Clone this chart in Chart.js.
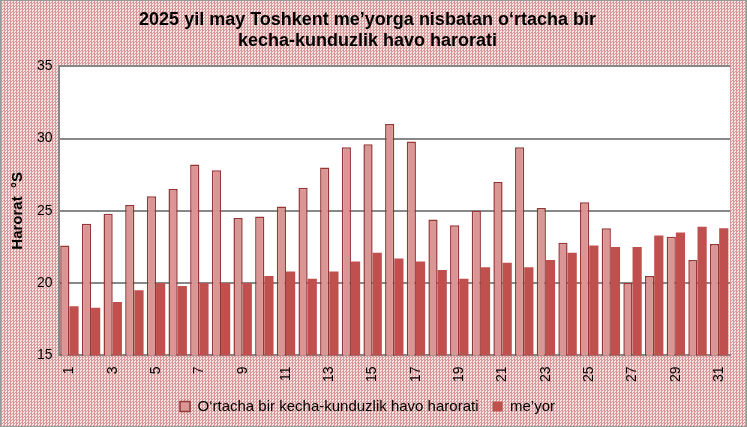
<!DOCTYPE html>
<html>
<head>
<meta charset="utf-8">
<script src="https://cdn.jsdelivr.net/npm/chart.js@4"></script>
<style>
  html, body { margin: 0; padding: 0; }
  body {
    width: 747px; height: 427px; overflow: hidden;
    background-color: #f3dcdc;
    background-image: repeating-conic-gradient(#d99696 0 25%, #f7e6e6 0 50%);
    background-size: 3px 3px;
  }
  #wrap { position: relative; width: 745px; height: 425px; border: 1px solid #999; }
</style>
</head>
<body>
<div id="wrap"><canvas id="chart" width="745" height="425"></canvas></div>
<script>
const days = Array.from({ length: 31 }, (_, i) => String(i + 1));
const averageTemp = [22.6, 24.1, 24.8, 25.4, 26.0, 26.5, 28.2, 27.8, 24.5, 24.6, 25.3, 26.6, 28.0, 29.4, 29.6, 31.0,
    29.8, 24.4, 24.0, 25.0, 27.0, 29.4, 25.2, 22.8, 25.6, 23.8, 20.0, 20.5, 23.2, 21.6, 22.7];
const normTemp = [18.4, 18.3, 18.7, 19.5, 20.0, 19.8, 20.0, 20.0, 20.0, 20.5, 20.8, 20.3, 20.8, 21.5, 22.1, 21.7,
    21.5, 20.9, 20.3, 21.1, 21.4, 21.1, 21.6, 22.1, 22.6, 22.5, 22.5, 23.3, 23.5, 23.9, 23.8];

const whiteArea = {
    id: "whiteArea",
    beforeDraw(chart) {
        const { ctx, chartArea: a } = chart;
        ctx.save();
        ctx.fillStyle = "#fff";
        ctx.fillRect(a.left, a.top, a.right - a.left, a.bottom - a.top);
        ctx.restore();
    }
};

new Chart(document.getElementById("chart"), {
    type: "bar",
    data: {
        labels: days,
        datasets: [{
            label: "O‘rtacha bir kecha-kunduzlik havo harorati",
            data: averageTemp,
            backgroundColor: "#d99694",
            borderColor: "#953735",
            borderWidth: 1.5,
        }, {
            label: "me’yor",
            data: normTemp,
            backgroundColor: "#c0504d",
            borderColor: "#c0504d",
            borderWidth: 0,
        }],
    },
    options: {
        responsive: false,
        animation: false,
        devicePixelRatio: 1,
        layout: { padding: { left: 4, right: 16, top: 0, bottom: 2 } },
        datasets: { bar: { categoryPercentage: 0.85, barPercentage: 1 } },
        plugins: {
            title: {
                display: true,
                text: ["2025 yil may Toshkent me’yorga nisbatan o‘rtacha bir", "kecha-kunduzlik havo harorati"],
                color: "#000",
                font: { family: "Liberation Sans", size: 18, weight: "bold" },
                padding: { top: 8, bottom: 14 },
            },
            legend: {
                position: "bottom",
                labels: {
                    color: "#000",
                    font: { family: "Liberation Sans", size: 15 },
                    boxWidth: 10, boxHeight: 10, padding: 14,
                },
            },
            tooltip: { enabled: false },
        },
        scales: {
            x: {
                grid: { display: false },
                border: { color: "#888", width: 2 },
                ticks: {
                    color: "#000", font: { family: "Liberation Sans", size: 14 },
                    maxRotation: 90, minRotation: 90, autoSkip: false,
                    callback(v, i) { return i % 2 === 0 ? days[i] : ""; },
                },
            },
            y: {
                min: 15, max: 35,
                grid: { color: "#888", lineWidth: 2, drawTicks: false },
                border: { color: "#888", width: 2 },
                ticks: { stepSize: 5, color: "#000", padding: 6, font: { family: "Liberation Sans", size: 14 } },
                title: {
                    display: true, text: "Harorat  °S", color: "#000",
                    font: { family: "Liberation Sans", size: 15, weight: "bold" },
                },
            },
        },
    },
    plugins: [whiteArea],
});
</script>
</body>
</html>
